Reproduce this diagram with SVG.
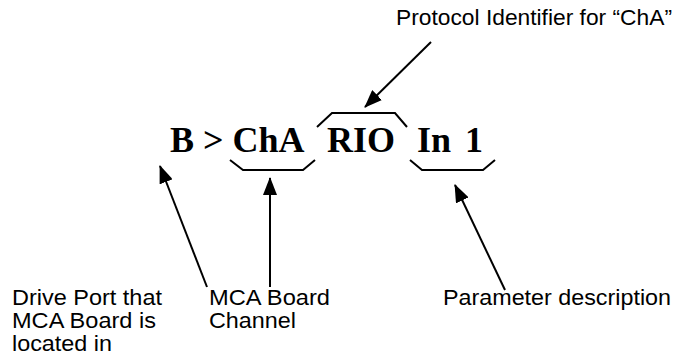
<svg xmlns="http://www.w3.org/2000/svg" width="679" height="360" viewBox="0 0 679 360">
  <style>
    .lbl { font-family: "Liberation Sans", Arial, sans-serif; font-size: 22px; fill: #000; }
    .cmd { font-family: "Liberation Serif", "Times New Roman", serif; font-size: 36px; font-weight: bold; fill: #000; }
    .brace { fill: none; stroke: #000; stroke-width: 2; stroke-linejoin: miter; }
    .arrow { fill: none; stroke: #000; stroke-width: 2; marker-end: url(#head); }
  </style>
  <defs>
    <marker id="head" viewBox="0 0 18 14" refX="17" refY="7" markerWidth="18" markerHeight="14" markerUnits="userSpaceOnUse" orient="auto">
      <path d="M0,0 L18,7 L0,14 Z" fill="#000"/>
    </marker>
  </defs>
  <rect width="679" height="360" fill="#fff"/>

  <!-- command string -->
  <g id="command">
    <text class="cmd" x="170" y="152">B &gt; ChA</text>
    <text class="cmd" x="327" y="152">RIO</text>
    <text class="cmd" x="417" y="152">In</text>
    <text class="cmd" x="465" y="152">1</text>
  </g>

  <!-- braces marking the parts of the command -->
  <g id="braces">
    <polyline class="brace" points="230,160 243,170 303,170 315,160"/>
    <polyline class="brace" points="317,127 332,113 395,113 407,127"/>
    <polyline class="brace" points="410,160 422,170 483,170 495,160"/>
  </g>

  <g id="protocol-label">
    <text class="lbl" x="396" y="25" textLength="276" lengthAdjust="spacingAndGlyphs">Protocol Identifier for “ChA”</text>
  </g>
  <g id="port-label">
    <text class="lbl" x="12" y="305" textLength="150" lengthAdjust="spacingAndGlyphs">Drive Port that</text>
    <text class="lbl" x="12" y="328" textLength="144" lengthAdjust="spacingAndGlyphs">MCA Board is</text>
    <text class="lbl" x="12" y="351" textLength="100" lengthAdjust="spacingAndGlyphs">located in</text>
  </g>
  <g id="channel-label">
    <text class="lbl" x="209" y="305" textLength="121" lengthAdjust="spacingAndGlyphs">MCA Board</text>
    <text class="lbl" x="209" y="328" textLength="87" lengthAdjust="spacingAndGlyphs">Channel</text>
  </g>
  <g id="parameter-label">
    <text class="lbl" x="443" y="305" textLength="228" lengthAdjust="spacingAndGlyphs">Parameter description</text>
  </g>

  <g id="connectors">
    <line class="arrow" x1="431" y1="42" x2="365" y2="107"/>
    <line class="arrow" x1="207" y1="287" x2="160" y2="166"/>
    <line class="arrow" x1="270" y1="287" x2="270" y2="178"/>
    <line class="arrow" x1="505" y1="290" x2="455" y2="185"/>
  </g>
</svg>
